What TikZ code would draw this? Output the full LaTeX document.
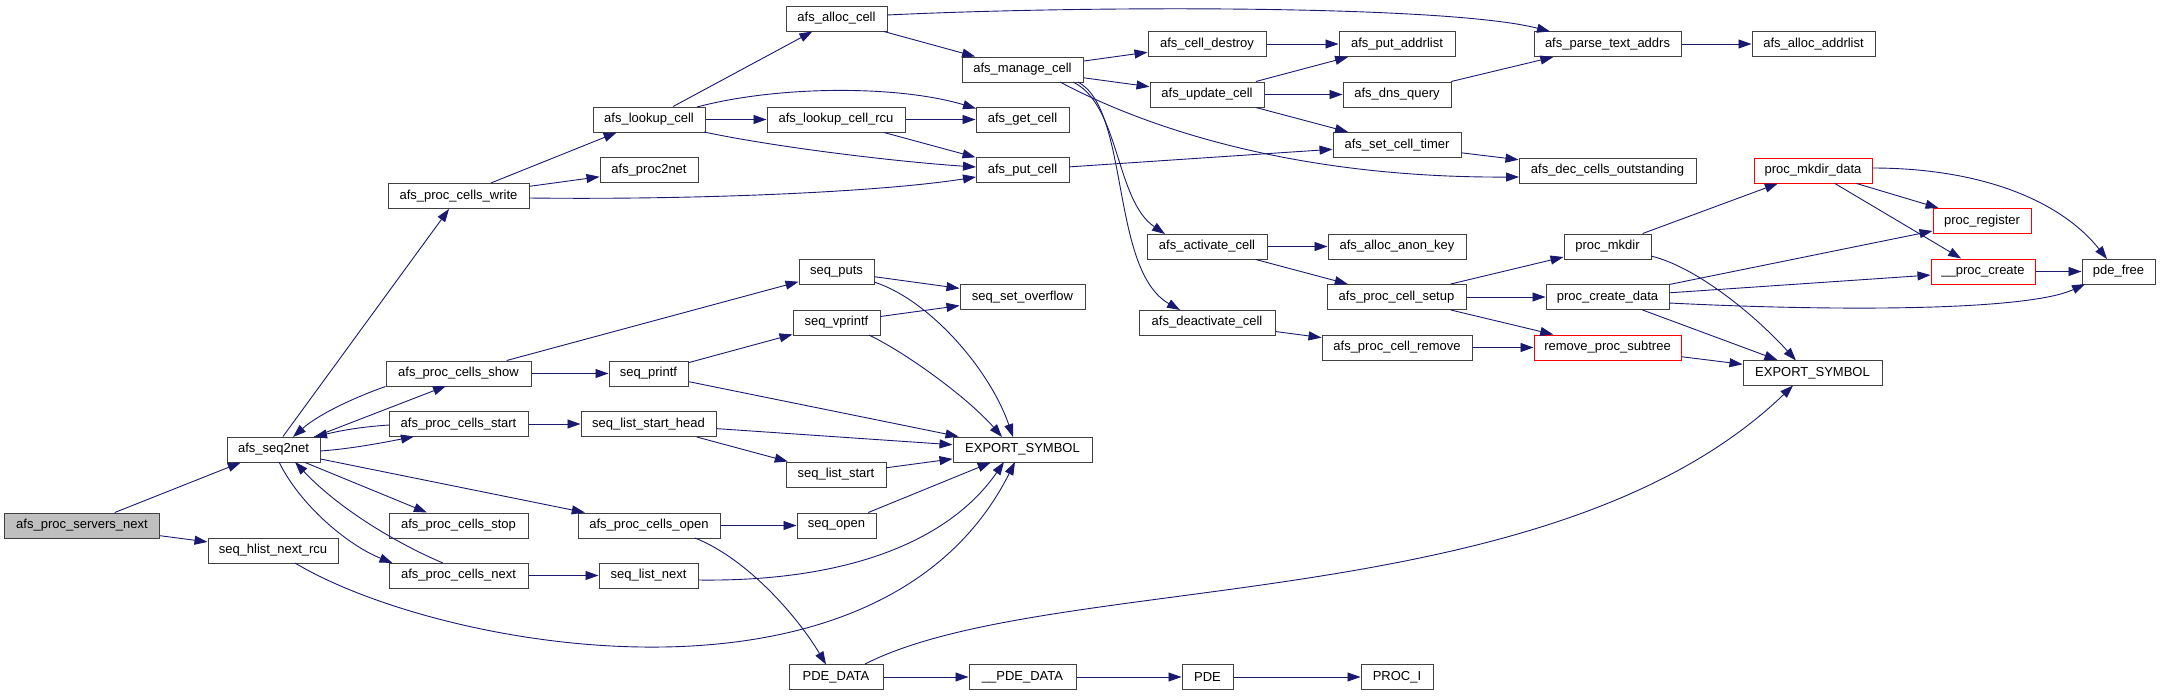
\documentclass[tikz,border=0pt]{standalone}
\usepackage{fontspec}
\setmainfont{Liberation Sans}
\usetikzlibrary{arrows.meta}
\definecolor{edgeblue}{HTML}{191970}
\definecolor{rootgray}{HTML}{BFBFBF}
\begin{document}
\begin{tikzpicture}[x=1pt, y=-1pt,
  fn/.style={draw=black!75, fill=white, line width=1pt, minimum height=25pt, inner sep=0pt,
    font=\fontsize{13}{15}\selectfont},
  root/.style={fn, fill=rootgray},
  redfn/.style={fn, draw=red},
  call/.style={draw=edgeblue, line width=0.9pt, -{Triangle[length=13pt,width=9pt]}}]
  \useasboundingbox (0,0) rectangle (2160,696);

  % Ranks 1 and 2
  \node[root, minimum width=155pt] (servers) at (82,525.5) {afs\_proc\_servers\_next};
  \node[fn, minimum width=93pt] (seqnet) at (273.5,449.5) {afs\_seq2net};
  \node[fn, minimum width=130pt] (hlist) at (273,550.5) {seq\_hlist\_next\_rcu};

  % Rank 3
  \node[fn, minimum width=141pt] (cwrite) at (458.5,196) {afs\_proc\_cells\_write};
  \node[fn, minimum width=145pt] (cshow) at (458.5,373.5) {afs\_proc\_cells\_show};
  \node[fn, minimum width=139pt] (cstart) at (458.5,424) {afs\_proc\_cells\_start};
  \node[fn, minimum width=139pt] (cstop) at (458.5,525.5) {afs\_proc\_cells\_stop};
  \node[fn, minimum width=139pt] (cnext) at (458.5,575.5) {afs\_proc\_cells\_next};

  % Rank 4
  \node[fn, minimum width=112pt] (lookup) at (649,119.5) {afs\_lookup\_cell};
  \node[fn, minimum width=98pt] (ptnet) at (649,170) {afs\_proc2net};
  \node[fn, minimum width=79pt] (sprintf) at (648.5,373.5) {seq\_printf};
  \node[fn, minimum width=135pt] (lshead) at (648.5,424) {seq\_list\_start\_head};
  \node[fn, minimum width=142pt] (copen) at (649,525.5) {afs\_proc\_cells\_open};
  \node[fn, minimum width=99pt] (lnext) at (648.5,575.5) {seq\_list\_next};

  % Rank 5
  \node[fn, minimum width=101pt] (alloc) at (836.5,18.5) {afs\_alloc\_cell};
  \node[fn, minimum width=138pt] (lrcu) at (836,119.5) {afs\_lookup\_cell\_rcu};
  \node[fn, minimum width=75pt] (sputs) at (836.5,271.5) {seq\_puts};
  \node[fn, minimum width=87pt] (svprintf) at (836.5,322.5) {seq\_vprintf};
  \node[fn, minimum width=100pt] (lstart) at (836,474.5) {seq\_list\_start};
  \node[fn, minimum width=79pt] (sopen) at (836.5,525.5) {seq\_open};
  \node[fn, minimum width=94pt] (pdedata) at (836,677) {PDE\_DATA};

  % Rank 6
  \node[fn, minimum width=121pt] (manage) at (1022.5,69.5) {afs\_manage\_cell};
  \node[fn, minimum width=93pt] (getcell) at (1022.5,119.5) {afs\_get\_cell};
  \node[fn, minimum width=93pt] (putcell) at (1022.5,170) {afs\_put\_cell};
  \node[fn, minimum width=125pt] (overflow) at (1022.5,297) {seq\_set\_overflow};
  \node[fn, minimum width=139pt] (export) at (1022.5,449.5) {EXPORT\_SYMBOL};
  \node[fn, minimum width=107pt] (upde) at (1022.5,677) {\_\_PDE\_DATA};

  % Rank 7
  \node[fn, minimum width=118pt] (destroy) at (1207,44) {afs\_cell\_destroy};
  \node[fn, minimum width=114pt] (update) at (1207,94.5) {afs\_update\_cell};
  \node[fn, minimum width=120pt] (activate) at (1207,246.5) {afs\_activate\_cell};
  \node[fn, minimum width=136pt] (deactivate) at (1207,322.5) {afs\_deactivate\_cell};
  \node[fn, minimum width=51pt] (pde) at (1207.5,677) {PDE};

  % Rank 8
  \node[fn, minimum width=116pt] (putaddr) at (1397,44) {afs\_put\_addrlist};
  \node[fn, minimum width=108pt] (dns) at (1397,94.5) {afs\_dns\_query};
  \node[fn, minimum width=128pt] (timer) at (1397,145) {afs\_set\_cell\_timer};
  \node[fn, minimum width=138pt] (anonkey) at (1397,246.5) {afs\_alloc\_anon\_key};
  \node[fn, minimum width=139pt] (setup) at (1396.5,297) {afs\_proc\_cell\_setup};
  \node[fn, minimum width=150pt] (remove) at (1397,347.5) {afs\_proc\_cell\_remove};
  \node[fn, minimum width=72pt] (proci) at (1397,677) {PROC\_I};

  % Rank 9
  \node[fn, minimum width=147pt] (parse) at (1607.5,44) {afs\_parse\_text\_addrs};
  \node[fn, minimum width=177pt] (deccells) at (1607.5,170.5) {afs\_dec\_cells\_outstanding};
  \node[fn, minimum width=87pt] (mkdir) at (1607.5,246.5) {proc\_mkdir};
  \node[fn, minimum width=123pt] (createdata) at (1607.5,297) {proc\_create\_data};
  \node[redfn, minimum width=147pt] (subtree) at (1607.5,347.5) {remove\_proc\_subtree};

  % Ranks 10 to 12
  \node[fn, minimum width=123pt] (allocaddr) at (1813.5,44) {afs\_alloc\_addrlist};
  \node[redfn, minimum width=118pt] (mkdirdata) at (1813,170.5) {proc\_mkdir\_data};
  \node[fn, minimum width=139pt] (export2) at (1812.5,373) {EXPORT\_SYMBOL};
  \node[redfn, minimum width=98pt] (register) at (1982,221) {proc\_register};
  \node[redfn, minimum width=104pt] (create) at (1983,271.5) {\_\_proc\_create};
  \node[fn, minimum width=73pt] (pdefree) at (2118.5,271.5) {pde\_free};

  % Calls out of the root and afs_seq2net
  \draw[call] (servers) -- (seqnet);
  \draw[call] (servers) -- (hlist);
  \draw[call] ([shift={(22,12.5)}]hlist.center) .. controls +(145,87) and +(-135,268) .. ([shift={(-7.5,12.5)}]export.center);
  \draw[call] (seqnet) -- (cwrite);
  \draw[call] ([shift={(40.5,-12.5)}]seqnet.center) -- ([shift={(-12.5,12.5)}]cshow.center);
  \draw[call] (cshow.south west) .. controls +(-26,9) and +(27,-24) .. ([shift={(19.5,-12.5)}]seqnet.center);
  \draw[call] ([shift={(46.5,1.5)}]seqnet.center) .. controls +(30,-2) and +(-30,6) .. ([shift={(-44.5,12.5)}]cstart.center);
  \draw[call] ([shift={(-69.5,1)}]cstart.center) .. controls +(-30,2) and +(25,-6) .. ([shift={(40.5,-12.5)}]seqnet.center);
  \draw[call] (seqnet) -- (cstop);
  \draw[call] ([shift={(5.5,12.5)}]seqnet.center) .. controls +(21,43) and +(-45,-18) .. ([shift={(-66,-12.5)}]cnext.center);
  \draw[call] ([shift={(-15.5,-12.5)}]cnext.center) .. controls +(-43,-18) and +(45,48) .. ([shift={(21.5,12.5)}]seqnet.center);
  \draw[call] (seqnet) -- (copen);

  % afs_proc_cells_write and lookups
  \draw[call] (cwrite) -- (lookup);
  \draw[call] (cwrite) -- (ptnet);
  \draw[call] ([shift={(70.5,2)}]cwrite.center) .. controls +(170,2) and +(-96,15) .. ([shift={(-46.5,7)}]putcell.center);
  \draw[call] (lookup) -- (alloc);
  \draw[call] ([shift={(48,-12.5)}]lookup.center) .. controls +(83,-22) and +(-76,-23) .. ([shift={(-46.5,-11)}]getcell.center);
  \draw[call] (lookup) -- (lrcu);
  \draw[call] ([shift={(55,12.5)}]lookup.center) .. controls +(76,16) and +(-76,-5) .. ([shift={(-46.5,-3)}]putcell.center);
  \draw[call] (lrcu) -- (getcell);
  \draw[call] (lrcu) -- (putcell);
  \draw[call] (alloc) -- (manage);
  \draw[call] ([shift={(50.5,-3.5)}]alloc.center) .. controls +(213,-10) and +(-100,-26) .. ([shift={(-57.5,-12.5)}]parse.center);

  % afs_manage_cell
  \draw[call] (manage) -- (destroy);
  \draw[call] (manage) -- (update);
  \draw[call] ([shift={(37.5,12.5)}]manage.center) .. controls +(90,48) and +(-219,1) .. ([shift={(-88.5,6.5)}]deccells.center);
  \draw[call] ([shift={(50.5,12.5)}]manage.center) .. controls +(47,23) and +(-50,-34) .. ([shift={(-42,-12.5)}]activate.center);
  \draw[call] ([shift={(55.5,12.5)}]manage.center) .. controls +(52,28) and +(-70,-40) .. ([shift={(-27,-12.5)}]deactivate.center);
  \draw[call] (destroy) -- (putaddr);
  \draw[call] (update) -- (putaddr);
  \draw[call] (update) -- (dns);
  \draw[call] (update) -- (timer);
  \draw[call] (dns) -- (parse);
  \draw[call] (parse) -- (allocaddr);
  \draw[call] (putcell) -- (timer);
  \draw[call] (timer) -- (deccells);

  % Cell activation and procfs
  \draw[call] (activate) -- (anonkey);
  \draw[call] (activate) -- (setup);
  \draw[call] (setup) -- (mkdir);
  \draw[call] (setup) -- (createdata);
  \draw[call] (setup) -- (subtree);
  \draw[call] (deactivate) -- (remove);
  \draw[call] (remove) -- (subtree);
  \draw[call] (mkdir) -- (mkdirdata);
  \draw[call] ([shift={(43.5,9.5)}]mkdir.center) .. controls +(49,12) and +(-36,-40) .. ([shift={(-16.5,-12.5)}]export2.center);
  \draw[call] (mkdirdata) -- (register);
  \draw[call] (mkdirdata) -- (create);
  \draw[call] ([shift={(59,-2.5)}]mkdirdata.center) .. controls +(108,0) and +(-47,-59) .. ([shift={(-11.5,-12.5)}]pdefree.center);
  \draw[call] (createdata) -- (register);
  \draw[call] (createdata) -- (create);
  \draw[call] ([shift={(61.5,6)}]createdata.center) .. controls +(181,9) and +(-55,26) .. ([shift={(-33.5,12.5)}]pdefree.center);
  \draw[call] (createdata) -- (export2);
  \draw[call] (create) -- (pdefree);
  \draw[call] (subtree) -- (export2);

  % PDE chain
  \draw[call] ([shift={(29,-13)}]pdedata.center) .. controls +(185,-94) and +(-243,234) .. ([shift={(-19.5,12.5)}]export2.center);
  \draw[call] (pdedata) -- (upde);
  \draw[call] (upde) -- (pde);
  \draw[call] (pde) -- (proci);

  % seq_file helpers
  \draw[call] (cshow) -- (sputs);
  \draw[call] (cshow) -- (sprintf);
  \draw[call] (sputs) -- (overflow);
  \draw[call] ([shift={(37.5,10.5)}]sputs.center) .. controls +(56,18) and +(-23,-67) .. ([shift={(-9.5,-12.5)}]export.center);
  \draw[call] (sprintf) -- (svprintf);
  \draw[call] (sprintf) -- (export);
  \draw[call] (svprintf) -- (overflow);
  \draw[call] ([shift={(32.5,12.5)}]svprintf.center) .. controls +(41,20) and +(-32,-37) .. ([shift={(-20.5,-12.5)}]export.center);
  \draw[call] (cstart) -- (lshead);
  \draw[call] (lshead) -- (export);
  \draw[call] (lshead) -- (lstart);
  \draw[call] (lstart) -- (export);
  \draw[call] (copen) -- (sopen);
  \draw[call] ([shift={(46,12.5)}]copen.center) .. controls +(55,22) and +(-26,-44) .. ([shift={(-10,-12.5)}]pdedata.center);
  \draw[call] (sopen) -- (export);
  \draw[call] (cnext) -- (lnext);
  \draw[call] ([shift={(49.5,4.5)}]lnext.center) .. controls +(152,2) and +(-54,78) .. ([shift={(-18.5,12.5)}]export.center);
\end{tikzpicture}
\end{document}
